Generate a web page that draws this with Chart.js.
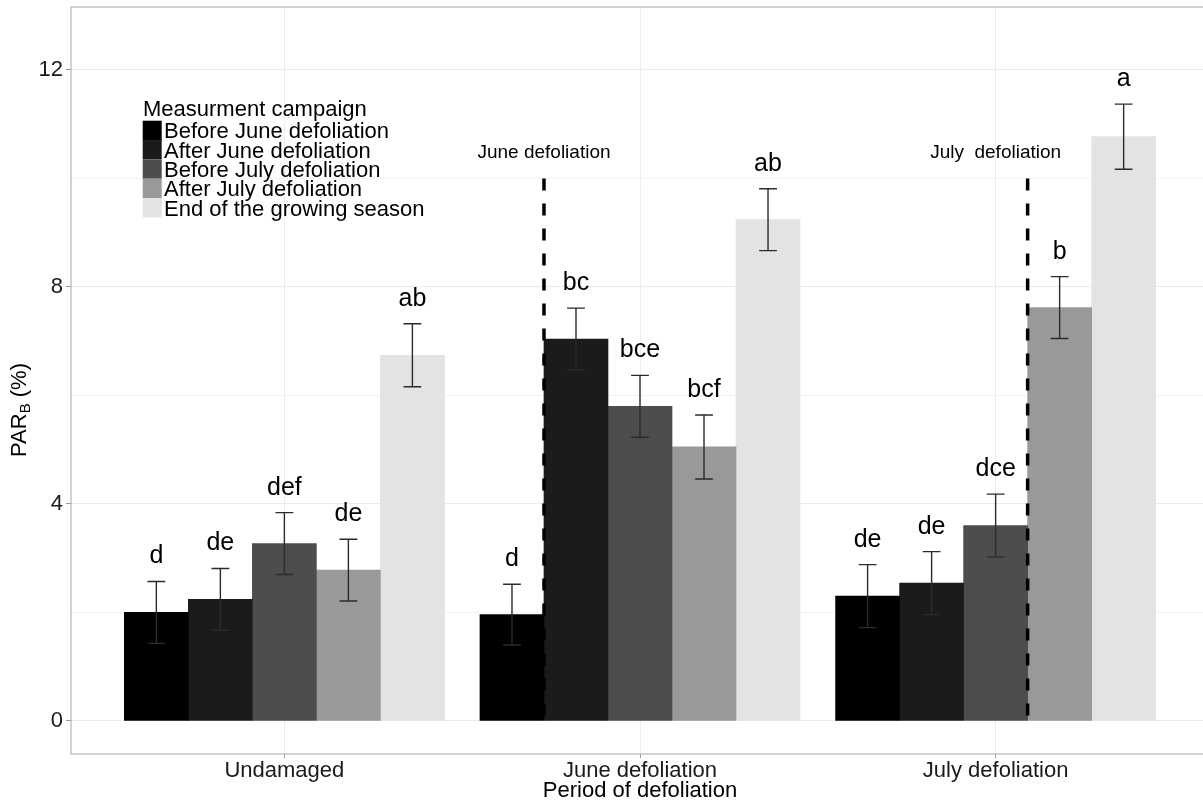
<!DOCTYPE html>
<html>
<head>
<meta charset="utf-8">
<script src="https://cdn.jsdelivr.net/npm/chart.js@4/dist/chart.umd.min.js"></script>
<style>
  html, body { margin: 0; padding: 0; background: #fff; overflow: hidden; }
  #wrap { position: relative; width: 1210px; height: 805px; }
</style>
</head>
<body>
<div id="wrap"><canvas id="chart" width="1210" height="805"></canvas></div>
<script>
/* PAR_B by period of defoliation and measurement campaign (bars ± SE, letters = groups) */

const PERIODS = ["Undamaged", "June defoliation", "July defoliation"];
const CAMPAIGNS = ["Before June defoliation", "After June defoliation", "Before July defoliation",
                   "After July defoliation", "End of the growing season"];
const FILLS = ["#000000", "#1b1b1b", "#4d4d4d", "#999999", "#e3e3e3"];

// mean PAR_B (%) per campaign, one value per period
const BEFORE_JUNE = [2.00, 1.96, 2.30];
const AFTER_JUNE  = [2.24, 7.04, 2.54];
const BEFORE_JULY = [3.27, 5.80, 3.60];
const AFTER_JULY  = [2.78, 5.05, 7.62];
const END_SEASON  = [6.74, 9.24, 10.77];

// standard errors
const SE_BEFORE_JUNE = [0.57, 0.56, 0.58];
const SE_AFTER_JUNE  = [0.57, 0.57, 0.58];
const SE_BEFORE_JULY = [0.57, 0.57, 0.58];
const SE_AFTER_JULY  = [0.57, 0.59, 0.57];
const SE_END_SEASON  = [0.58, 0.57, 0.60];

// significance letters
const LET_BEFORE_JUNE = ["d", "d", "de"];
const LET_AFTER_JUNE  = ["de", "bc", "de"];
const LET_BEFORE_JULY = ["def", "bce", "dce"];
const LET_AFTER_JULY  = ["de", "bcf", "b"];
const LET_END_SEASON  = ["ab", "ab", "a"];

// defoliation events (vertical dashed lines)
const EVENT_LABELS = ["June defoliation", "July  defoliation"];
const EVENT_X = [1.73, 3.09];
const EVENT_LABEL_X = [1.73, 3.0];
const EVENT_TOP = 10;
const EVENT_LABEL_Y = 10.38;

const Y_TICKS = [0, 2, 4, 6, 8, 10, 12];
const Y_LABELS = [0, 4, 8, 12];

const MEANS = [BEFORE_JUNE, AFTER_JUNE, BEFORE_JULY, AFTER_JULY, END_SEASON];
const SES = [SE_BEFORE_JUNE, SE_AFTER_JUNE, SE_BEFORE_JULY, SE_AFTER_JULY, SE_END_SEASON];
const LETTERS = [LET_BEFORE_JUNE, LET_AFTER_JUNE, LET_BEFORE_JULY, LET_AFTER_JULY, LET_END_SEASON];

const DODGE = 0.18;          // 0.9 dodge width / 5 campaigns
const FONT = "'Liberation Sans', Arial, Helvetica, sans-serif";
const INK = "#1a1a1a";

const barSets = CAMPAIGNS.map((name, k) => ({
  type: "bar",
  label: name,
  data: PERIODS.map((p, i) => ({ x: i + 1 + (k - 2) * DODGE, y: MEANS[k][i] })),
  backgroundColor: FILLS[k],
  borderWidth: 0,
  grouped: false,
  barPercentage: 1,
  categoryPercentage: 1,
  order: 1,
}));

const lineSets = EVENT_X.map((x) => ({
  type: "line",
  data: [{ x, y: EVENT_TOP }, { x, y: 0 }],
  borderColor: "#000",
  borderWidth: 3.5,
  borderDash: [12, 13],
  borderCapStyle: "butt",
  pointRadius: 0,
  fill: false,
  order: -1,
}));

const extras = {
  id: "extras",
  afterDatasetsDraw(chart) {
    const { ctx, chartArea: a, scales: { x, y } } = chart;
    ctx.save();
    // error bars + letters
    CAMPAIGNS.forEach((_, k) => {
      const meta = chart.getDatasetMeta(lineSets.length + k);
      meta.data.forEach((bar, i) => {
        const m = MEANS[k][i], se = SES[k][i];
        const xv = i + 1 + (k - 2) * DODGE;
        const cx = bar.x;
        const hw = x.getPixelForValue(xv + 0.025) - x.getPixelForValue(xv);
        const yt = y.getPixelForValue(m + se), yb = y.getPixelForValue(m - se);
        ctx.strokeStyle = "#2b2b2b";
        ctx.lineWidth = 1.4;
        ctx.beginPath();
        ctx.moveTo(cx, yt); ctx.lineTo(cx, yb);
        ctx.moveTo(cx - hw, yt); ctx.lineTo(cx + hw, yt);
        ctx.moveTo(cx - hw, yb); ctx.lineTo(cx + hw, yb);
        ctx.stroke();
        ctx.fillStyle = "#000";
        ctx.font = `25px ${FONT}`;
        ctx.textAlign = "center";
        ctx.textBaseline = "alphabetic";
        ctx.fillText(LETTERS[k][i], cx, yt - 18);
      });
    });
    // event labels
    ctx.font = `19px ${FONT}`;
    ctx.fillStyle = "#000";
    ctx.textAlign = "center";
    EVENT_LABELS.forEach((t, j) => {
      ctx.fillText(t, x.getPixelForValue(EVENT_LABEL_X[j]), y.getPixelForValue(EVENT_LABEL_Y));
    });
    // panel border
    ctx.strokeStyle = "#b5b5b5";
    ctx.lineWidth = 1.2;
    ctx.strokeRect(a.left, a.top, a.right - a.left, a.bottom - a.top);
    ctx.restore();
  },
  afterDraw(chart) {
    const { ctx } = chart;
    ctx.save();
    // legend
    ctx.fillStyle = "#000";
    ctx.font = `22px ${FONT}`;
    ctx.textAlign = "left";
    ctx.textBaseline = "alphabetic";
    ctx.fillText("Measurment campaign", 143, 116);
    CAMPAIGNS.forEach((name, k) => {
      const top = 120.7 + k * 19.33;
      ctx.fillStyle = FILLS[k];
      ctx.fillRect(142.7, top, 19, 19.33);
      ctx.fillStyle = "#000";
      ctx.fillText(name, 164, top + 17.6);
    });
    // x axis title
    ctx.textAlign = "center";
    ctx.fillText("Period of defoliation", chart.scales.x.getPixelForValue(2), 797);
    // y axis title with subscript
    ctx.translate(26, 410);
    ctx.rotate(-Math.PI / 2);
    const big = `22px ${FONT}`, small = `15px ${FONT}`;
    ctx.font = big; const w1 = ctx.measureText("PAR").width;
    ctx.font = small; const w2 = ctx.measureText("B").width;
    ctx.font = big; const w3 = ctx.measureText(" (%)").width;
    let px = -(w1 + w2 + w3) / 2;
    ctx.textAlign = "left";
    ctx.font = big; ctx.fillText("PAR", px, 0); px += w1;
    ctx.font = small; ctx.fillText("B", px, 4); px += w2;
    ctx.font = big; ctx.fillText(" (%)", px, 0);
    ctx.restore();
  },
};

new Chart(document.getElementById("chart"), {
  data: { datasets: [...lineSets, ...barSets] },
  options: {
    responsive: false,
    animation: false,
    layout: { padding: { top: 7, right: 1, left: 0, bottom: 0 } },
    plugins: { legend: { display: false }, tooltip: { enabled: false } },
    scales: {
      x: {
        type: "linear",
        min: 0.4, max: 3.6,
        offset: false,
        afterBuildTicks: (s) => { s.ticks = PERIODS.map((_, i) => ({ value: i + 1 })); },
        afterFit: (s) => { s.height = 51; s.paddingLeft = 0; s.paddingRight = 0; },
        border: { display: false },
        grid: { offset: false, color: "#ececec", lineWidth: 1, tickLength: 4, tickColor: "#9a9a9a" },
        ticks: {
          padding: 0, maxRotation: 0, autoSkip: false,
          color: INK, font: { family: FONT, size: 22 },
          callback: (v) => PERIODS[Math.round(v) - 1] ?? "",
        },
      },
      y: {
        type: "linear",
        min: -0.61, max: 13.16,
        afterBuildTicks: (s) => { s.ticks = Y_TICKS.map((v) => ({ value: v })); },
        afterFit: (s) => { s.width = 71; s.paddingTop = 0; s.paddingBottom = 0; },
        border: { display: false },
        grid: {
          color: (c) => (Y_LABELS.includes(c.tick?.value) ? "#ebebeb" : "#f3f3f3"),
          lineWidth: 1, tickLength: 5,
          tickColor: (c) => (Y_LABELS.includes(c.tick?.value) ? "#9a9a9a" : "rgba(0,0,0,0)"),
        },
        ticks: {
          padding: 3, autoSkip: false,
          color: INK, font: { family: FONT, size: 22 },
          callback: (v) => (Y_LABELS.includes(v) ? String(v) : ""),
        },
      },
    },
  },
  plugins: [extras],
});
</script>
</body>
</html>
